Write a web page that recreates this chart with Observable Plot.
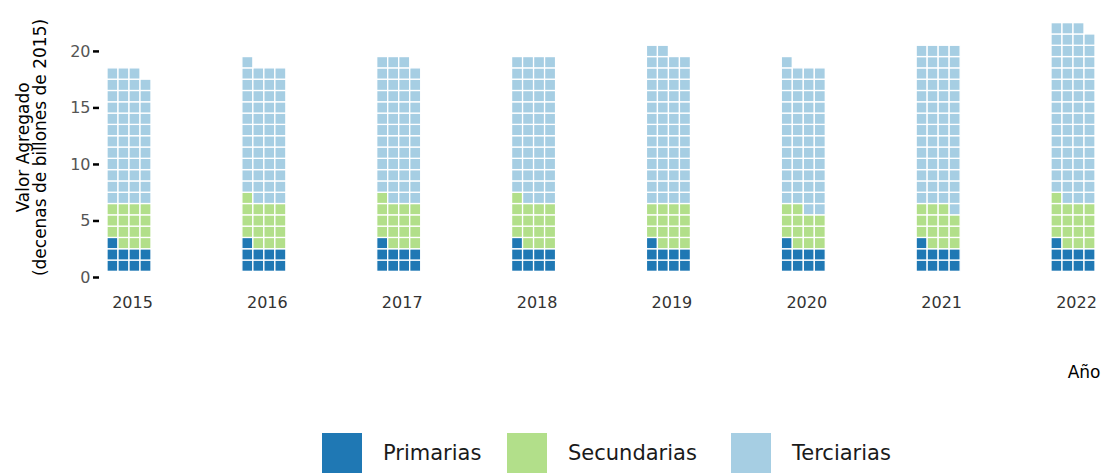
<!DOCTYPE html>
<html>
<head>
<meta charset="utf-8">
<script src="https://cdn.jsdelivr.net/npm/d3@7"></script>
<script src="https://cdn.jsdelivr.net/npm/@observablehq/plot@0.6"></script>
<style>
  html, body { margin: 0; padding: 0; background: #fff; }
  body { width: 1103px; height: 473px; overflow: hidden; font-family: "DejaVu Sans", sans-serif; }
  #legend { position: relative; height: 68px; }
  .item { position: absolute; top: 28px; display: flex; align-items: center; height: 40px; }
  .sw { width: 40px; height: 40px; }
  .lab { margin-left: 21px; font-size: 21px; color: #1a1a1a; }
</style>
</head>
<body>
<div id="chart"></div>
<div id="legend"></div>
<script>
// Data (units = cells; each row holds 4 cells)
const years = [2015, 2016, 2017, 2018, 2019, 2020, 2021, 2022];
const sectors = ["Primarias", "Secundarias", "Terciarias"];
const primarias   = [9, 9, 9, 9, 9, 9, 9, 9];
const secundarias = [15, 16, 16, 16, 15, 13, 14, 16];
const terciarias  = [47, 48, 50, 51, 54, 51, 57, 62];
const colors = ["#1f78b4", "#b2df8a", "#a6cee3"];
const yTicks = [0, 5, 10, 15, 20];
const perRow = 4;

// Build waffle cells from the counts
const series = [primarias, secundarias, terciarias];
const cells = [];
years.forEach((yr, j) => {
  let idx = 0;
  sectors.forEach((s, k) => {
    for (let n = 0; n < series[k][j]; n++, idx++) {
      const row = Math.floor(idx / perRow) + 1;
      const col = (idx % perRow) + 1;
      cells.push({year: String(yr), sector: s, col, y1: row - 0.5, y2: row + 0.5});
    }
  });
});

const chart = Plot.plot({
  width: 1103,
  height: 405,
  marginLeft: 107,
  marginRight: 8,
  marginTop: 17,
  marginBottom: 128,
  style: {fontFamily: "DejaVu Sans, sans-serif", fontSize: "16px", color: "#000"},
  fx: {domain: years.map(String), paddingInner: 0.6737, paddingOuter: 0, round: false},
  x: {domain: [1, 2, 3, 4], padding: 0, round: false, axis: null},
  y: {domain: [0, 23], ticks: yTicks},
  color: {domain: sectors, range: colors},
  marks: [
    Plot.barY(cells, {fx: "year", x: "col", y1: "y1", y2: "y2", fill: "sector", stroke: "white", strokeWidth: 1.3}),
    Plot.axisY({ticks: yTicks, dx: -8, tickSize: 6, tickPadding: 3, strokeWidth: 2.5, stroke: "black",
      fill: "#555", fontSize: 16, label: null}),
    Plot.axisY({ticks: [], dx: -8, tickSize: 0, label: "Valor Agregado\n(decenas de billones de 2015)",
      labelArrow: "none", labelAnchor: "center", labelOffset: 91, fontSize: 17, fill: "#000"}),
    Plot.axisFx({anchor: "bottom", tickSize: 0, tickPadding: 19, dx: 3, fill: "#333", fontSize: 16, label: null}),
    Plot.axisFx({anchor: "bottom", ticks: [], tickSize: 0, fill: "#000", fontSize: 17,
      label: "Año", labelAnchor: "right", labelOffset: 100})
  ]
});
document.getElementById("chart").appendChild(chart);

// Legend
const legend = document.getElementById("legend");
const lefts = [322, 507, 731];
sectors.forEach((s, i) => {
  const it = document.createElement("div");
  it.className = "item";
  it.style.left = lefts[i] + "px";
  it.innerHTML = `<div class="sw" style="background:${colors[i]}"></div><span class="lab">${s}</span>`;
  legend.appendChild(it);
});
</script>
</body>
</html>
